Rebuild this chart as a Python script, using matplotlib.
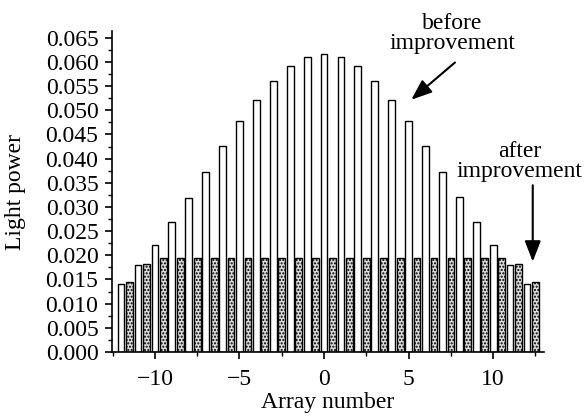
import numpy as np
import matplotlib
matplotlib.use("Agg")
import matplotlib.pyplot as plt
from matplotlib.ticker import MultipleLocator, FormatStrFormatter

plt.rcParams['font.family'] = ['Liberation Serif', 'DejaVu Serif']
plt.rcParams['axes.unicode_minus'] = True

# array positions -12 .. 12
array_number = list(range(-12, 13))
before = [0.0141, 0.0179, 0.0222, 0.0269, 0.0319, 0.0372, 0.0426, 0.0478, 0.0522,
          0.0561, 0.0591, 0.0610, 0.0616, 0.0610, 0.0591, 0.0561, 0.0522, 0.0477,
          0.0426, 0.0372, 0.0321, 0.0269, 0.0222, 0.0179, 0.0141]
after = [0.0144, 0.0182] + [0.0195] * 21 + [0.0182, 0.0144]

fig = plt.figure(figsize=(5.88, 4.2), dpi=100)
ax = fig.add_axes([0.191, 0.162, 0.734, 0.764])

x = np.array(array_number, dtype=float)
ax.bar(x, before, width=0.4, color='white', edgecolor='black', linewidth=1.0)
ax.bar(x + 0.5, after, width=0.4, color='#dcdcdc', edgecolor='black',
       linewidth=1.0, hatch='.....')

ax.set_xlim(-12.52, 13.0)
ax.set_ylim(0, 0.0664)

ax.spines['top'].set_visible(False)
ax.spines['right'].set_visible(False)
ax.spines['left'].set_linewidth(1.2)
ax.spines['bottom'].set_linewidth(1.2)

ax.xaxis.set_major_locator(MultipleLocator(5))
ax.xaxis.set_minor_locator(MultipleLocator(2.5))
ax.yaxis.set_major_locator(MultipleLocator(0.005))
ax.yaxis.set_minor_locator(MultipleLocator(0.0025))
ax.yaxis.set_major_formatter(FormatStrFormatter('%.3f'))
ax.tick_params(axis='both', which='major', direction='out', length=5, width=1.2,
               labelsize=17, pad=5)
ax.tick_params(axis='both', which='minor', direction='out', length=3, width=1.0)
ax.tick_params(axis='x', which='major', pad=7)

ax.set_xlabel('Array number', fontsize=17, labelpad=2)
ax.set_ylabel('Light power', fontsize=17, labelpad=14)

ax.annotate('', xy=(5.16, 0.0522), xytext=(7.74, 0.0599),
            arrowprops=dict(arrowstyle='-|>,head_length=0.9,head_width=0.35',
                            mutation_scale=14, color='black', lw=1.5,
                            shrinkA=0, shrinkB=0))
ax.text(7.6, 0.0659, 'before\nimprovement', ha='center', va='center',
        fontsize=17, linespacing=0.9, clip_on=False)

ax.annotate('', xy=(12.34, 0.0187), xytext=(12.34, 0.0345),
            arrowprops=dict(arrowstyle='-|>,head_length=0.9,head_width=0.35',
                            mutation_scale=14, color='black', lw=1.5,
                            shrinkA=0, shrinkB=0))
ax.text(11.56, 0.0394, 'after\nimprovement', ha='center', va='center',
        fontsize=17, linespacing=0.9, clip_on=False)

fig.savefig('out.png', dpi=100)
